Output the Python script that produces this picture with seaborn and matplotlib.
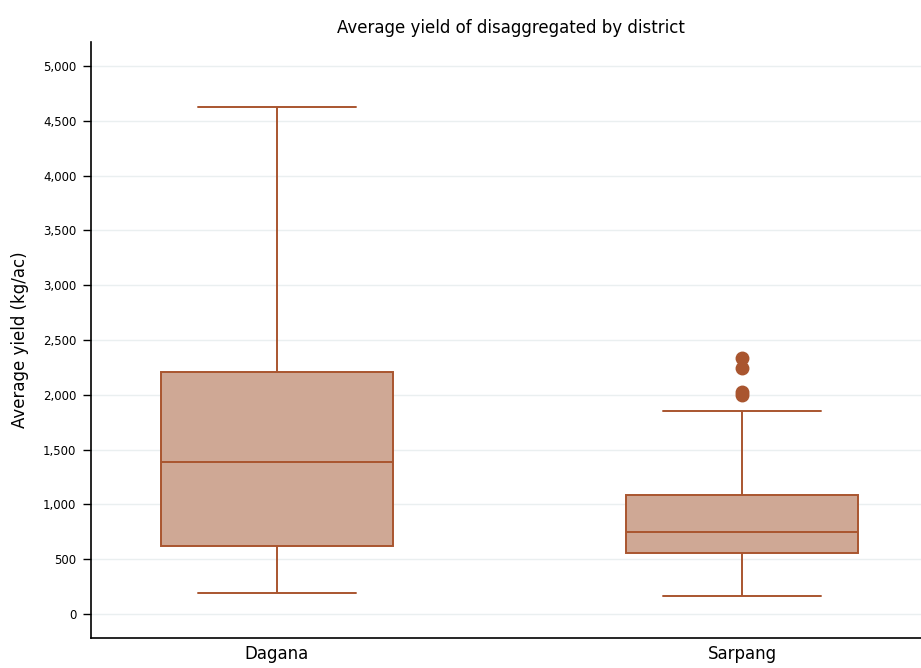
import numpy as np
import pandas as pd
import seaborn as sns
import matplotlib.pyplot as plt
from matplotlib.ticker import FuncFormatter, MultipleLocator

# values (kg/ac)
dagana = [192, 400, 620, 1000, 1387, 1800, 2208, 3000, 4626]
sarpang = [164, 300, 400, 450, 520, 557, 600, 650, 690, 720, 748,
           800, 870, 950, 1020, 1086, 1852, 2000, 2026, 2245, 2336]
districts = ["Dagana", "Sarpang"]

df = pd.DataFrame({
    "district": ["Dagana"] * len(dagana) + ["Sarpang"] * len(sarpang),
    "yield": dagana + sarpang,
})

sns.set_theme(style="white")
plt.rcParams["font.family"] = ["DejaVu Sans"]

edge = "#A9552F"
fill = "#CFA895"

fig = plt.figure(figsize=(9.21, 6.68), dpi=100)
ax = fig.add_axes([91 / 921, 30 / 668, 1 - 91 / 921, 596 / 668])

sns.boxplot(data=df, x="district", y="yield", order=districts, ax=ax,
            width=0.5, whis=1.6, color=fill, linecolor=edge, linewidth=1.4,
            boxprops=dict(facecolor=fill, edgecolor=edge),
            flierprops=dict(marker="o", markerfacecolor=edge, markeredgecolor=edge,
                            markersize=9),
            capwidths=0.34)

ax.set_xlim(-0.4, 1.385)
ax.set_ylim(-219, 5219)
ax.yaxis.set_major_locator(MultipleLocator(500))
ax.yaxis.set_major_formatter(FuncFormatter(lambda v, p: f"{int(v):,}"))
ax.grid(axis="y", color="#EAEFF0", linewidth=1)
ax.set_axisbelow(True)

for s in ["top", "right"]:
    ax.spines[s].set_visible(False)
for s in ["left", "bottom"]:
    ax.spines[s].set_color("black")
    ax.spines[s].set_linewidth(1.2)

ax.tick_params(axis="y", left=True, length=6, width=1, color="black",
               labelsize=8.5, labelcolor="black", pad=4.5)
ax.tick_params(axis="x", bottom=False, length=0, labelsize=12,
               labelcolor="black", pad=5)

ax.set_xlabel("")
ax.set_ylabel("Average yield (kg/ac)", fontsize=12, color="black", labelpad=10)
fig.suptitle("Average yield of disaggregated by district", fontsize=12,
             x=0.555, y=0.971, color="black")

fig.savefig("out.png", dpi=100)
